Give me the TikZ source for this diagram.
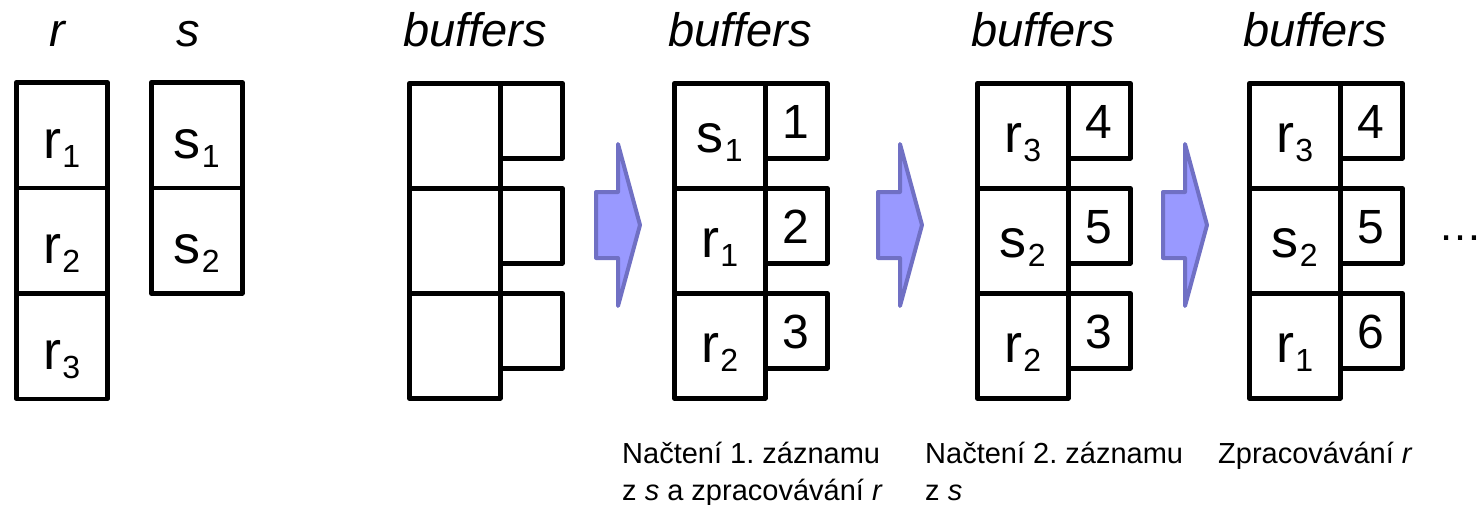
\documentclass[tikz,border=0pt]{standalone}
\usepackage{fontspec}
\setmainfont{Liberation Sans}
\usetikzlibrary{calc}
\frenchspacing
\definecolor{arrowfill}{RGB}{153,153,255}
\definecolor{arrowline}{RGB}{112,112,196}
\newcommand\lowsub[1]{\kern1pt\raisebox{-9pt}{\fontsize{32}{32}\selectfont #1}}
\tikzset{
  cell/.style={draw,line width=4.5pt,line join=round,minimum width=91pt,minimum height=105pt,inner sep=0pt,anchor=north west},
  numbox/.style={draw,line width=4.5pt,line join=round,minimum width=62pt,minimum height=75pt,inner sep=0pt,anchor=north west},
  lab/.style={anchor=base,font=\fontsize{54}{54}\selectfont,inner sep=0pt},
  num/.style={anchor=base,font=\fontsize{48}{48}\selectfont,inner sep=0pt},
  head/.style={font=\fontsize{47}{47}\selectfont\itshape,inner sep=0pt},
  note/.style={anchor=base west,font=\fontsize{29}{29}\selectfont,inner sep=0pt},
  fatarrow/.pic={\draw[line width=4pt,line join=round,draw=arrowline,fill=arrowfill]
    (0,-33) -- (22,-33) -- (22,-81) -- (44,0) -- (22,81) -- (22,33) -- (0,33) -- cycle;}
}
\begin{document}
\begin{tikzpicture}[x=1pt,y=-1pt]
\useasboundingbox (0,0) rectangle (1480,504);
% source relations
\node[head,anchor=base] (hr) at (57,46) {r};
\node[head,anchor=base] (hs) at (188,46) {s};
\foreach \j in {1,2,3} {
  \node[cell,minimum height=105.5pt] (r\j) at (14,{80+(\j-1)*105.5}) {};
  \node[lab] (lr\j) at ($(r\j.north)+(0,78)$) {r\lowsub{\j}};
}
\foreach \j in {1,2} {
  \node[cell,minimum height=105.5pt] (s\j) at (149,{80+(\j-1)*105.5}) {};
  \node[lab] (ls\j) at ($(s\j.north)+(0,78)$) {s\lowsub{\j}};
}
% buffers
\foreach \bi/\bx in {1/407,2/672,3/975,4/1247} {
  \foreach \rj in {1,2,3} {
    \node[numbox] (b\bi n\rj) at ({\bx+91},{81+(\rj-1)*105}) {};
    \node[cell] (b\bi c\rj) at (\bx,{81+(\rj-1)*105}) {};
  }
  \node[head,anchor=base west] (h\bi) at ({\bx-4},46) {buffers};
}
\foreach \bi/\rj/\l/\d/\n in {2/1/s/1/1,2/2/r/1/2,2/3/r/2/3,
                              3/1/r/3/4,3/2/s/2/5,3/3/r/2/3,
                              4/1/r/3/4,4/2/s/2/5,4/3/r/1/6} {
  \node[lab] (L\bi\rj) at ($(b\bi c\rj.north)+(0,71)$) {\l\lowsub{\d}};
  \node[num] (N\bi\rj) at ($(b\bi n\rj.north)+(0,57)$) {\n};
}
% step arrows
\pic at (596,225) {fatarrow};
\pic at (878,225) {fatarrow};
\pic at (1163,225) {fatarrow};
\node[anchor=base west,font=\fontsize{44}{44}\selectfont,inner sep=0pt] (dots) at (1438,240) {…};
% notes
\node[note] (n1a) at (622,463) {Načtení 1. záznamu};
\node[note] (n1b) at (622,500) {z \textit{s} a zpracovávání \textit{r}};
\node[note] (n2a) at (925,463) {Načtení 2. záznamu};
\node[note] (n2b) at (925,500) {z \textit{s}};
\node[note] (n3a) at (1218,463) {Zpracovávání \textit{r}};
\end{tikzpicture}
\end{document}
